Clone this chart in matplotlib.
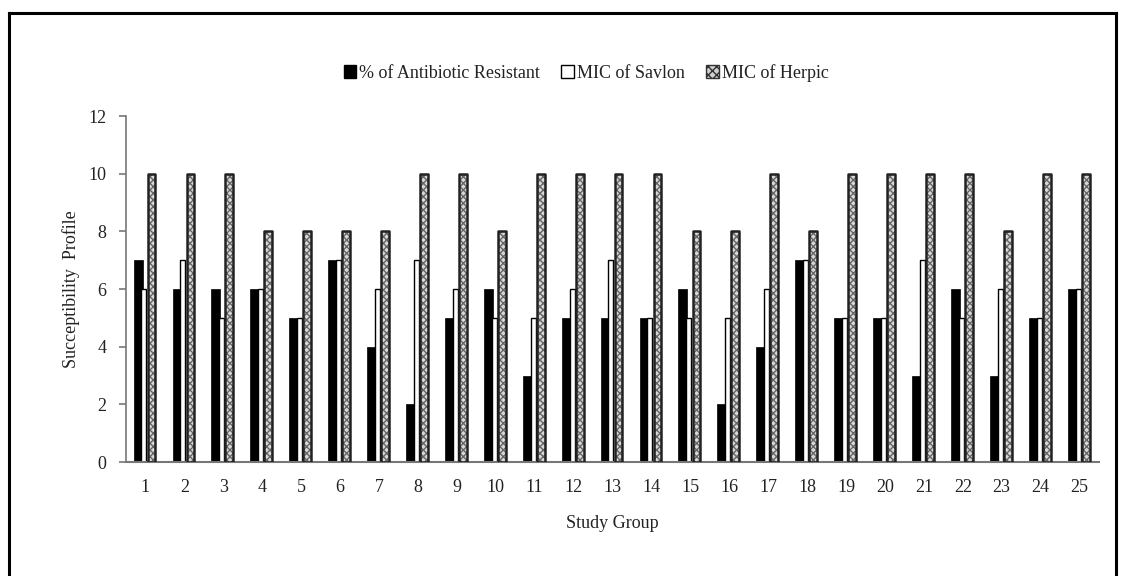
import matplotlib.pyplot as plt
import matplotlib.lines as mlines
import numpy as np

plt.rcParams['font.family'] = ['Liberation Serif', 'DejaVu Serif']

groups = [str(i) for i in range(1, 26)]
antibiotic = [7, 6, 6, 6, 5, 7, 4, 2, 5, 6, 3, 5, 5, 5, 6, 2, 4, 7, 5, 5, 3, 6, 3, 5, 6]
savlon = [6, 7, 5, 6, 5, 7, 6, 7, 6, 5, 5, 6, 7, 5, 5, 5, 6, 7, 5, 5, 7, 5, 6, 5, 6]
herpic = [10, 10, 10, 8, 8, 8, 8, 10, 10, 8, 10, 10, 10, 10, 8, 8, 10, 8, 10, 10, 10, 10, 8, 10, 10]

x = np.arange(len(groups))

fig = plt.figure(figsize=(11.27, 5.76), dpi=100)
ax = fig.add_axes([0.1118, 0.1979, 0.8634, 0.6007])

ax.bar(x - 0.19, antibiotic, width=0.23, color='black', edgecolor='black', linewidth=0.5,
       label='% of Antibiotic Resistant', zorder=2)
ax.bar(x - 0.04, savlon, width=0.13, color='white', edgecolor='black', linewidth=1.0,
       label='MIC of Savlon', zorder=2)
ax.bar(x + 0.155, herpic, width=0.2, color='#d8d8d8', edgecolor='#666666', hatch='xxxxx',
       linewidth=0, zorder=3)
ax.bar(x + 0.155, herpic, width=0.2, color='none', edgecolor='#222222', linewidth=1.8,
       joinstyle='round', zorder=4)

ax.set_xlim(-0.5, 24.5)
ax.set_ylim(0, 12)
ax.set_yticks(range(0, 13, 2))
ax.set_xticks(x)
ax.set_xticklabels(groups)
ax.tick_params(axis='x', length=0, pad=12, labelsize=13, labelcolor='#222222')
ax.tick_params(axis='y', length=5, width=1.2, color='#777777', pad=9, labelsize=13,
               labelcolor='#222222')
for s in ['top', 'right']:
    ax.spines[s].set_visible(False)
ax.spines['left'].set_color('#777777')
ax.spines['bottom'].set_color('#777777')
ax.spines['left'].set_linewidth(1.2)
ax.spines['bottom'].set_linewidth(1.5)

ax.set_xlabel('Study Group', fontsize=13, color='#222222', labelpad=14)
ax.set_ylabel('Succeptibility  Profile', fontsize=13, color='#222222', labelpad=6)

h1 = plt.Rectangle((0, 0), 1, 1, facecolor='black', edgecolor='black')
h2 = plt.Rectangle((0, 0), 1, 1, facecolor='white', edgecolor='black')
h3 = plt.Rectangle((0, 0), 1, 1, facecolor='#d0d0d0', edgecolor='#333333', hatch='xxxx')
fig.legend([h1, h2, h3], ['% of Antibiotic Resistant', 'MIC of Savlon', 'MIC of Herpic'],
           loc='center', bbox_to_anchor=(0.52, 0.873), ncol=3, frameon=False,
           fontsize=13, handlelength=0.7, handleheight=0.7, handletextpad=0.15,
           columnspacing=1.2, labelcolor='#222222')

# outer frame
for xs, ys in [([0.008, 0.008], [0.0, 0.977]), ([0.008, 0.990], [0.977, 0.977]),
               ([0.990, 0.990], [0.0, 0.977])]:
    fig.add_artist(mlines.Line2D(xs, ys, color='black', linewidth=2.2,
                                 transform=fig.transFigure))

fig.savefig('out.png', dpi=100)
